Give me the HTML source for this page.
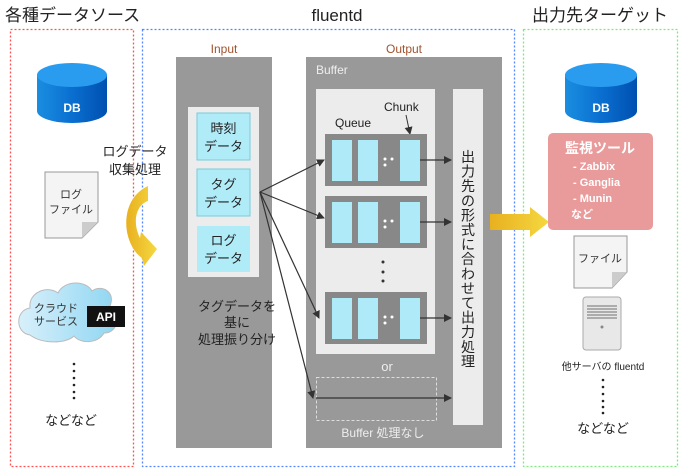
<!DOCTYPE html>
<html><head><meta charset="utf-8"><style>
html,body{margin:0;padding:0;background:#fff;width:686px;height:475px;overflow:hidden}
svg{display:block}
text{font-family:"Liberation Sans","Noto Sans CJK JP",sans-serif}
</style></head><body>
<svg width="686" height="475" viewBox="0 0 686 475" xmlns="http://www.w3.org/2000/svg">
<defs>
<linearGradient id="db" x1="0" x2="1"><stop offset="0" stop-color="#1a8ee0"/><stop offset="0.5" stop-color="#0a6fd0"/><stop offset="1" stop-color="#0050b0"/></linearGradient>
<linearGradient id="yl" x1="0" x2="1"><stop offset="0" stop-color="#e8b020"/><stop offset="1" stop-color="#f5d840"/></linearGradient>
<linearGradient id="cl" x1="0" x2="1"><stop offset="0" stop-color="#d8f0fb"/><stop offset="1" stop-color="#8fd6f2"/></linearGradient>
<marker id="ah" markerWidth="8" markerHeight="8" refX="7" refY="4" orient="auto" markerUnits="userSpaceOnUse"><path d="M0,0 L8,4 L0,8 Z" fill="#333"/></marker>
</defs>
<text x="5" y="21" font-size="17" fill="#222">各種データソース</text>
<text x="337" y="21" font-size="17" fill="#222" text-anchor="middle">fluentd</text>
<text x="600" y="21" font-size="17" fill="#222" text-anchor="middle">出力先ターゲット</text>
<rect x="10.5" y="29.5" width="123" height="437" fill="none" stroke="#f55" stroke-width="1.3" stroke-dasharray="2,2"/>
<rect x="142.5" y="29.5" width="372" height="437" fill="none" stroke="#58f" stroke-width="1.3" stroke-dasharray="2,2"/>
<rect x="523.5" y="29.5" width="154" height="437" fill="none" stroke="#7e7" stroke-width="1.3" stroke-dasharray="2,2"/>

<path d="M37,75 L37,111 A35,12 0 0 0 107,111 L107,75 Z" fill="url(#db)"/>
<ellipse cx="72" cy="75" rx="35" ry="12" fill="#2a9cf0"/>
<text x="72" y="112" font-size="12" font-weight="bold" fill="#fff" text-anchor="middle">DB</text>
<path d="M45,172 L98,172 L98,222 L82,238 L45,238 Z" fill="#f4f4f4" stroke="#999"/>
<path d="M98,222 L82,222 L82,238 Z" fill="#ccc"/>
<text x="71" y="198" font-size="11" fill="#333" text-anchor="middle">ログ</text>
<text x="71" y="213" font-size="11" fill="#333" text-anchor="middle">ファイル</text>
<path d="M30,335 C15,333 15,310 30,308 C28,292 48,285 58,293 C64,280 86,280 92,291 C102,284 116,292 110,306 C122,312 118,334 104,333 C98,344 80,344 74,336 C66,344 42,344 30,335 Z" fill="url(#cl)" stroke="#bbb"/>
<text x="56" y="312" font-size="11" fill="#333" text-anchor="middle">クラウド</text>
<text x="56" y="325" font-size="11" fill="#333" text-anchor="middle">サービス</text>
<rect x="87" y="306" width="38" height="21" fill="#111"/>
<text x="106" y="321" font-size="12" font-weight="bold" fill="#fff" text-anchor="middle">API</text>
<g fill="#222"><circle cx="74" cy="364" r="1.3"/><circle cx="74" cy="371" r="1.3"/><circle cx="74" cy="378" r="1.3"/><circle cx="74" cy="385" r="1.3"/><circle cx="74" cy="392" r="1.3"/><circle cx="74" cy="398" r="1.3"/></g>
<text x="71" y="425" font-size="13" fill="#222" text-anchor="middle">などなど</text>
<text x="135" y="156" font-size="13" fill="#222" text-anchor="middle">ログデータ</text>
<text x="135" y="174" font-size="13" fill="#222" text-anchor="middle">収集処理</text>
<path d="M148,186 L148,201 C136,205 132,222 140,238 L141,232 L157,249 L144,266 L142,258 C122,244 118,200 148,186 Z" fill="url(#yl)"/>

<text x="224" y="53" font-size="12" fill="#a0522d" text-anchor="middle">Input</text>
<rect x="176" y="57" width="96" height="391" fill="#999"/>
<rect x="188" y="107" width="71" height="170" fill="#ececec"/>
<rect x="197" y="113" width="53" height="47" fill="#b0ebf8" stroke="#7cd"/>
<text x="223.5" y="133" font-size="13" fill="#222" text-anchor="middle">時刻</text>
<text x="223.5" y="151" font-size="13" fill="#222" text-anchor="middle">データ</text>
<rect x="197" y="169" width="53" height="47" fill="#b0ebf8" stroke="#7cd"/>
<text x="223.5" y="189" font-size="13" fill="#222" text-anchor="middle">タグ</text>
<text x="223.5" y="207" font-size="13" fill="#222" text-anchor="middle">データ</text>
<rect x="197" y="226" width="53" height="46" fill="#b0ebf8"/>
<text x="223.5" y="245" font-size="13" fill="#222" text-anchor="middle">ログ</text>
<text x="223.5" y="263" font-size="13" fill="#222" text-anchor="middle">データ</text>
<text x="237" y="311" font-size="13" fill="#222" text-anchor="middle">タグデータを</text>
<text x="237" y="327" font-size="13" fill="#222" text-anchor="middle">基に</text>
<text x="237" y="344" font-size="13" fill="#222" text-anchor="middle">処理振り分け</text>

<text x="404" y="53" font-size="12" fill="#a0522d" text-anchor="middle">Output</text>
<rect x="306" y="57" width="196" height="391" fill="#999"/>
<text x="316" y="74" font-size="12" fill="#eee">Buffer</text>
<rect x="316" y="89" width="119" height="265" fill="#ececec"/>
<rect x="453" y="89" width="30" height="336" fill="#ececec"/>
<g font-size="14" fill="#222" text-anchor="middle">
<text x="468" y="162">出</text><text x="468" y="176.6">力</text><text x="468" y="191.2">先</text><text x="468" y="205.8">の</text><text x="468" y="220.4">形</text><text x="468" y="235">式</text><text x="468" y="249.6">に</text><text x="468" y="264.2">合</text><text x="468" y="278.8">わ</text><text x="468" y="293.4">せ</text><text x="468" y="308">て</text><text x="468" y="322.6">出</text><text x="468" y="337.2">力</text><text x="468" y="351.8">処</text><text x="468" y="366.4">理</text>
</g>
<text x="335" y="127" font-size="12" fill="#222">Queue</text>
<text x="384" y="111" font-size="12" fill="#222">Chunk</text>
<line x1="406" y1="115" x2="410" y2="134" stroke="#333" marker-end="url(#ah)"/>
<g id="q">
<rect x="325" y="134" width="102" height="52" fill="#888"/>
<rect x="332" y="140" width="20" height="41" fill="#aeeaf8"/>
<rect x="358" y="140" width="20" height="41" fill="#aeeaf8"/>
<rect x="400" y="140" width="20" height="41" fill="#aeeaf8"/>
<circle cx="385" cy="159" r="1.5" fill="#fff"/><circle cx="392" cy="159" r="1.5" fill="#fff"/><circle cx="385" cy="165" r="1.5" fill="#fff"/>
<line x1="420" y1="160" x2="451" y2="160" stroke="#333" stroke-width="1.3" marker-end="url(#ah)"/>
</g>
<use href="#q" y="62"/>
<use href="#q" y="158"/>
<g fill="#333"><circle cx="383" cy="262" r="1.5"/><circle cx="383" cy="272" r="1.5"/><circle cx="383" cy="281" r="1.5"/></g>
<text x="387" y="371" font-size="13" fill="#eee" text-anchor="middle">or</text>
<rect x="316.5" y="377.5" width="120" height="43" fill="none" stroke="#ddd" stroke-dasharray="3,2"/>
<line x1="316" y1="398" x2="451" y2="398" stroke="#333" stroke-width="1.3" marker-end="url(#ah)"/>
<text x="383" y="437" font-size="12" fill="#eee" text-anchor="middle">Buffer 処理なし</text>
<g stroke="#333" stroke-width="1.2" fill="none">
<line x1="260" y1="192" x2="324" y2="160" marker-end="url(#ah)"/>
<line x1="260" y1="192" x2="324" y2="218" marker-end="url(#ah)"/>
<line x1="260" y1="192" x2="319" y2="318" marker-end="url(#ah)"/>
<line x1="260" y1="192" x2="313" y2="398" marker-end="url(#ah)"/>
</g>
<path d="M490,214 L530,214 L530,207 L549,222 L530,237 L530,230 L490,230 Z" fill="url(#yl)"/>

<path d="M565,75 L565,111 A36,12 0 0 0 637,111 L637,75 Z" fill="url(#db)"/>
<ellipse cx="601" cy="75" rx="36" ry="12" fill="#2a9cf0"/>
<text x="601" y="112" font-size="12" font-weight="bold" fill="#fff" text-anchor="middle">DB</text>
<rect x="548" y="133" width="105" height="97" rx="5" fill="#e99a9a"/>
<text x="565" y="153" font-size="14" font-weight="bold" fill="#fff">監視ツール</text>
<text x="573" y="170" font-size="11" font-weight="bold" fill="#fff">- Zabbix</text>
<text x="573" y="186" font-size="11" font-weight="bold" fill="#fff">- Ganglia</text>
<text x="573" y="202" font-size="11" font-weight="bold" fill="#fff">- Munin</text>
<text x="571" y="218" font-size="11" font-weight="bold" fill="#fff">など</text>
<path d="M574,236 L627,236 L627,272 L612,288 L574,288 Z" fill="#f4f4f4" stroke="#999"/>
<path d="M627,272 L612,272 L612,288 Z" fill="#ccc"/>
<text x="600" y="262" font-size="11" fill="#333" text-anchor="middle">ファイル</text>
<rect x="583" y="297" width="38" height="53" rx="3" fill="#e8e8e8" stroke="#aaa"/>
<g stroke="#888" stroke-width="1.2"><line x1="587" y1="306" x2="617" y2="306"/><line x1="587" y1="309" x2="617" y2="309"/><line x1="587" y1="312" x2="617" y2="312"/><line x1="587" y1="315" x2="617" y2="315"/><line x1="587" y1="318" x2="617" y2="318"/></g>
<circle cx="602" cy="327" r="1.5" fill="#888"/>
<text x="603" y="370" font-size="10" fill="#222" text-anchor="middle">他サーバの fluentd</text>
<g fill="#222"><circle cx="603" cy="380" r="1.3"/><circle cx="603" cy="387" r="1.3"/><circle cx="603" cy="394" r="1.3"/><circle cx="603" cy="401" r="1.3"/><circle cx="603" cy="407" r="1.3"/><circle cx="603" cy="413" r="1.3"/></g>
<text x="603" y="433" font-size="13" fill="#222" text-anchor="middle">などなど</text>
</svg>
</body></html>
